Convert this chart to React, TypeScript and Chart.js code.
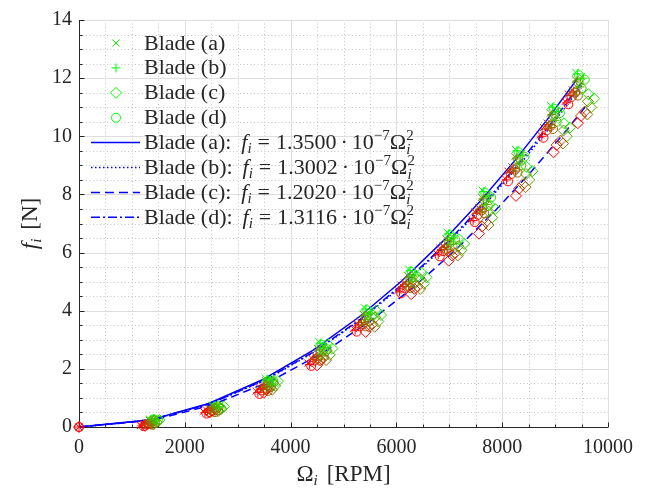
import React, { useEffect, useRef } from 'react';
import { Chart, registerables } from 'chart.js';

Chart.register(...registerables);

// ---------- data ----------
const xTickValues = [0, 2000, 4000, 6000, 8000, 10000];
const yTickValues = [0, 2, 4, 6, 8, 10, 12, 14];
const bladeLabels = ['Blade (a)', 'Blade (b)', 'Blade (c)', 'Blade (d)'];
const fitCoefficients = ['1.3500', '1.3002', '1.2020', '1.3116'];

// measured clusters (one inner array per throttle step, first sample green ... last sample red)
const bladeARpm = [[0], [1330, 1430, 1380, 1330, 1320, 1270, 1210, 1160], [2520, 2620, 2570, 2520, 2510, 2460, 2400, 2350], [3520, 3620, 3570, 3520, 3510, 3460, 3400, 3350], [4530, 4620, 4570, 4510, 4500, 4450, 4390, 4330], [5390, 5480, 5430, 5370, 5360, 5310, 5250, 5190], [6230, 6320, 6270, 6210, 6200, 6150, 6090, 6030], [6960, 7050, 7000, 6940, 6930, 6880, 6820, 6760], [7620, 7730, 7670, 7610, 7600, 7550, 7480, 7420], [8250, 8360, 8300, 8240, 8230, 8180, 8110, 8050], [8920, 9030, 8970, 8910, 8900, 8850, 8780, 8720], [9390, 9500, 9440, 9380, 9370, 9320, 9250, 9190]];
const bladeAForce = [[0], [0.27, 0.25, 0.17, 0.23, 0.10, 0.14, 0.11, 0.05], [0.76, 0.74, 0.66, 0.72, 0.59, 0.63, 0.60, 0.54], [1.68, 1.64, 1.48, 1.60, 1.34, 1.42, 1.36, 1.24], [2.93, 2.78, 2.56, 2.70, 2.38, 2.46, 2.38, 2.20], [4.11, 3.96, 3.74, 3.88, 3.56, 3.64, 3.56, 3.38], [5.43, 5.28, 5.06, 5.20, 4.88, 4.96, 4.88, 4.70], [6.70, 6.55, 6.33, 6.47, 6.15, 6.23, 6.15, 5.97], [8.15, 8.00, 7.70, 7.90, 7.45, 7.55, 7.40, 7.15], [9.55, 9.40, 9.10, 9.30, 8.85, 8.95, 8.80, 8.55], [11.05, 10.90, 10.60, 10.80, 10.35, 10.45, 10.30, 10.05], [12.20, 12.05, 11.75, 11.95, 11.50, 11.60, 11.45, 11.20]];

const bladeBRpm = [[0], [1360, 1460, 1410, 1360, 1350, 1300, 1240, 1190], [2550, 2650, 2600, 2550, 2540, 2490, 2430, 2380], [3550, 3650, 3600, 3550, 3540, 3490, 3430, 3380], [4560, 4650, 4600, 4540, 4530, 4480, 4420, 4360], [5420, 5510, 5460, 5400, 5390, 5340, 5280, 5220], [6260, 6350, 6300, 6240, 6230, 6180, 6120, 6060], [6990, 7080, 7030, 6970, 6960, 6910, 6850, 6790], [7650, 7760, 7700, 7640, 7630, 7580, 7510, 7450], [8280, 8390, 8330, 8270, 8260, 8210, 8140, 8080], [8950, 9060, 9000, 8940, 8930, 8880, 8810, 8750], [9420, 9530, 9470, 9410, 9400, 9350, 9280, 9220]];
const bladeBForce = [[0], [0.26, 0.24, 0.16, 0.22, 0.09, 0.13, 0.10, 0.04], [0.72, 0.70, 0.62, 0.68, 0.55, 0.59, 0.56, 0.50], [1.63, 1.59, 1.43, 1.55, 1.29, 1.37, 1.31, 1.19], [2.88, 2.73, 2.51, 2.65, 2.33, 2.41, 2.33, 2.15], [4.06, 3.91, 3.69, 3.83, 3.51, 3.59, 3.51, 3.33], [5.38, 5.23, 5.01, 5.15, 4.83, 4.91, 4.83, 4.65], [6.65, 6.50, 6.28, 6.42, 6.10, 6.18, 6.10, 5.92], [8.10, 7.95, 7.65, 7.85, 7.40, 7.50, 7.35, 7.10], [9.50, 9.35, 9.05, 9.25, 8.80, 8.90, 8.75, 8.50], [11.00, 10.85, 10.55, 10.75, 10.30, 10.40, 10.25, 10.00], [12.15, 12.00, 11.70, 11.90, 11.45, 11.55, 11.40, 11.15]];

const bladeCRpm = [[0], [1420, 1520, 1470, 1420, 1410, 1360, 1300, 1250], [2640, 2740, 2690, 2640, 2630, 2580, 2520, 2470], [3660, 3760, 3710, 3660, 3650, 3600, 3540, 3490], [4700, 4790, 4740, 4680, 4670, 4620, 4560, 4500], [5620, 5710, 5660, 5600, 5590, 5540, 5480, 5420], [6480, 6570, 6520, 6460, 6450, 6400, 6340, 6280], [7190, 7280, 7230, 7170, 7160, 7110, 7050, 6990], [7760, 7870, 7810, 7750, 7740, 7690, 7620, 7560], [8460, 8570, 8510, 8450, 8440, 8390, 8320, 8260], [9170, 9280, 9220, 9160, 9150, 9100, 9030, 8970], [9630, 9740, 9680, 9620, 9610, 9560, 9490, 9430]];
const bladeCForce = [[0], [0.26, 0.24, 0.16, 0.22, 0.09, 0.13, 0.10, 0.04], [0.72, 0.70, 0.62, 0.68, 0.55, 0.59, 0.56, 0.50], [1.62, 1.58, 1.42, 1.54, 1.28, 1.36, 1.30, 1.18], [2.85, 2.70, 2.48, 2.62, 2.30, 2.38, 2.30, 2.12], [4.00, 3.85, 3.63, 3.77, 3.45, 3.53, 3.45, 3.27], [5.30, 5.15, 4.93, 5.07, 4.75, 4.83, 4.75, 4.57], [6.45, 6.30, 6.08, 6.22, 5.90, 5.98, 5.90, 5.72], [7.65, 7.50, 7.20, 7.40, 6.95, 7.05, 6.90, 6.65], [8.95, 8.80, 8.50, 8.70, 8.25, 8.35, 8.20, 7.95], [10.45, 10.30, 10.00, 10.20, 9.75, 9.85, 9.70, 9.45], [11.45, 11.30, 11.00, 11.20, 10.75, 10.85, 10.70, 10.45]];

const bladeDRpm = [[0], [1390, 1490, 1440, 1390, 1380, 1330, 1270, 1220], [2580, 2680, 2630, 2580, 2570, 2520, 2460, 2410], [3580, 3680, 3630, 3580, 3570, 3520, 3460, 3410], [4590, 4680, 4630, 4570, 4560, 4510, 4450, 4390], [5450, 5540, 5490, 5430, 5420, 5370, 5310, 5250], [6290, 6380, 6330, 6270, 6260, 6210, 6150, 6090], [7020, 7110, 7060, 7000, 6990, 6940, 6880, 6820], [7680, 7790, 7730, 7670, 7660, 7610, 7540, 7480], [8310, 8420, 8360, 8300, 8290, 8240, 8170, 8110], [8980, 9090, 9030, 8970, 8960, 8910, 8840, 8780], [9450, 9560, 9500, 9440, 9430, 9380, 9310, 9250]];
const bladeDForce = [[0], [0.25, 0.23, 0.15, 0.21, 0.08, 0.12, 0.09, 0.03], [0.68, 0.66, 0.58, 0.64, 0.51, 0.55, 0.52, 0.46], [1.58, 1.54, 1.38, 1.50, 1.24, 1.32, 1.26, 1.14], [2.83, 2.68, 2.46, 2.60, 2.28, 2.36, 2.28, 2.10], [4.01, 3.86, 3.64, 3.78, 3.46, 3.54, 3.46, 3.28], [5.33, 5.18, 4.96, 5.10, 4.78, 4.86, 4.78, 4.60], [6.60, 6.45, 6.23, 6.37, 6.05, 6.13, 6.05, 5.87], [8.05, 7.90, 7.60, 7.80, 7.35, 7.45, 7.30, 7.05], [9.45, 9.30, 9.00, 9.20, 8.75, 8.85, 8.70, 8.45], [10.95, 10.80, 10.50, 10.70, 10.25, 10.35, 10.20, 9.95], [12.10, 11.95, 11.65, 11.85, 11.40, 11.50, 11.35, 11.10]];

// fitted curves f = k * Omega^2 sampled at the step speeds
const fitARpm = [0, 1350, 2450, 3480, 4420, 5300, 6100, 6900, 7600, 8250, 8850, 9430];
const fitAForce = [0, 0.246, 0.810, 1.635, 2.637, 3.792, 5.023, 6.427, 7.798, 9.188, 10.574, 12.005];
const fitBRpm = [0, 1360, 2470, 3510, 4460, 5350, 6160, 6960, 7680, 8330, 8930, 9530];
const fitBForce = [0, 0.241, 0.793, 1.602, 2.586, 3.722, 4.934, 6.298, 7.669, 9.022, 10.368, 11.809];
const fitCRpm = [0, 1400, 2530, 3600, 4600, 5500, 6330, 7140, 7880, 8560, 9180, 9620];
const fitCForce = [0, 0.236, 0.769, 1.558, 2.543, 3.636, 4.816, 6.128, 7.464, 8.808, 10.130, 11.124];
const fitDRpm = [0, 1340, 2460, 3490, 4450, 5320, 6120, 6920, 7620, 8260, 8880, 9500];
const fitDForce = [0, 0.236, 0.794, 1.598, 2.597, 3.712, 4.913, 6.281, 7.616, 8.949, 10.343, 11.837];

// ---------- styles ----------
const FONT = '"Liberation Serif", "Times New Roman", serif';
const TEXT = '#262626';
const BLUE = '#0000ff';
const GREEN = '#00ff00';

function buildScatter(rpm: number[][], force: number[][]) {
  const pts: { x: number; y: number }[] = [];
  const cols: string[] = [];
  rpm.forEach((cl, i) => {
    const n = cl.length;
    cl.forEach((r, j) => {
      pts.push({ x: r, y: force[i][j] });
      const t = n === 1 ? 1 : j / (n - 1);
      cols.push(`rgb(${Math.round(255 * t)},${Math.round(255 * (1 - t))},0)`);
    });
  });
  return { pts, cols };
}

function zip(xs: number[], ys: number[]) {
  return xs.map((x, i) => ({ x, y: ys[i] }));
}

type Piece = { t?: string; it?: boolean; s?: number; dy?: number; adv?: boolean; gap?: number };

function richWidth(ctx: CanvasRenderingContext2D, pieces: Piece[], base: number) {
  let w = 0;
  for (const p of pieces) {
    if (p.gap) { w += p.gap; continue; }
    ctx.font = `${p.it ? 'italic ' : ''}${p.s || base}px ${FONT}`;
    if (p.adv !== false) w += ctx.measureText(p.t || '').width;
  }
  return w;
}

function drawRich(ctx: CanvasRenderingContext2D, pieces: Piece[], x: number, y: number, base: number) {
  let cx = x;
  for (const p of pieces) {
    if (p.gap) { cx += p.gap; continue; }
    ctx.font = `${p.it ? 'italic ' : ''}${p.s || base}px ${FONT}`;
    ctx.fillText(p.t || '', cx, y + (p.dy || 0));
    if (p.adv !== false) cx += ctx.measureText(p.t || '').width;
  }
}

function drawMarker(ctx: CanvasRenderingContext2D, kind: string, x: number, y: number) {
  ctx.save();
  ctx.strokeStyle = GREEN;
  ctx.lineWidth = 1;
  ctx.beginPath();
  if (kind === 'x') {
    const d = 3.5;
    ctx.moveTo(x - d, y - d); ctx.lineTo(x + d, y + d);
    ctx.moveTo(x - d, y + d); ctx.lineTo(x + d, y - d);
  } else if (kind === '+') {
    const d = 4.5;
    ctx.moveTo(x - d, y); ctx.lineTo(x + d, y);
    ctx.moveTo(x, y - d); ctx.lineTo(x, y + d);
  } else if (kind === 'd') {
    const d = 5.5;
    ctx.moveTo(x, y - d); ctx.lineTo(x + d, y); ctx.lineTo(x, y + d); ctx.lineTo(x - d, y); ctx.closePath();
  } else {
    ctx.arc(x, y, 4.5, 0, Math.PI * 2);
  }
  ctx.stroke();
  ctx.restore();
}

const decorPlugin = {
  id: 'matlabDecor',
  beforeDatasetsDraw(chart: any) {
    const { ctx, chartArea: a, scales } = chart;
    const xs = scales.x, ys = scales.y;
    ctx.save();
    // minor dotted grid
    ctx.strokeStyle = '#c4c4c4';
    ctx.lineWidth = 1;
    ctx.setLineDash([1, 2.5]);
    for (let v = 500; v < 10000; v += 500) {
      if (v % 2000 === 0) continue;
      const px = Math.round(xs.getPixelForValue(v)) + 0.5;
      ctx.beginPath(); ctx.moveTo(px, a.top); ctx.lineTo(px, a.bottom); ctx.stroke();
    }
    for (let v = 0.5; v < 14; v += 0.5) {
      if (v % 2 === 0) continue;
      const py = Math.round(ys.getPixelForValue(v)) + 0.5;
      ctx.beginPath(); ctx.moveTo(a.left, py); ctx.lineTo(a.right, py); ctx.stroke();
    }
    // major solid grid
    ctx.setLineDash([]);
    ctx.strokeStyle = '#dedede';
    xTickValues.forEach((v) => {
      if (v === 0) return;
      const px = Math.round(xs.getPixelForValue(v)) + 0.5;
      ctx.beginPath(); ctx.moveTo(px, a.top); ctx.lineTo(px, a.bottom); ctx.stroke();
    });
    yTickValues.forEach((v) => {
      if (v === 0) return;
      const py = Math.round(ys.getPixelForValue(v)) + 0.5;
      ctx.beginPath(); ctx.moveTo(a.left, py); ctx.lineTo(a.right, py); ctx.stroke();
    });
    // axes
    ctx.strokeStyle = TEXT;
    const bx = Math.round(a.left) + 0.5;
    const by = Math.round(a.bottom) + 0.5;
    ctx.beginPath(); ctx.moveTo(bx, a.top); ctx.lineTo(bx, by); ctx.lineTo(a.right, by); ctx.stroke();
    // inward ticks
    for (let v = 0; v <= 10000; v += 500) {
      const px = Math.round(xs.getPixelForValue(v)) + 0.5;
      const len = v % 2000 === 0 ? 5 : 3;
      ctx.beginPath(); ctx.moveTo(px, by); ctx.lineTo(px, by - len); ctx.stroke();
    }
    for (let v = 0; v <= 14; v += 0.5) {
      const py = Math.round(ys.getPixelForValue(v)) + 0.5;
      const len = v % 2 === 0 ? 5 : 3;
      ctx.beginPath(); ctx.moveTo(bx, py); ctx.lineTo(bx + len, py); ctx.stroke();
    }
    ctx.restore();
  },
  afterDraw(chart: any) {
    const { ctx, chartArea: a } = chart;
    ctx.save();
    ctx.fillStyle = TEXT;
    ctx.textBaseline = 'alphabetic';
    ctx.textAlign = 'left';
    // x title
    const xt: Piece[] = [{ t: 'Ω' }, { t: 'i', it: true, s: 15, dy: 4 }, { gap: 9 }, { t: '[RPM]' }];
    const xw = richWidth(ctx, xt, 23);
    drawRich(ctx, xt, (a.left + a.right) / 2 - xw / 2, 481, 23);
    // y title
    const yt: Piece[] = [{ t: 'f', it: true }, { t: 'i', it: true, s: 15, dy: 4 }, { gap: 9 }, { t: '[N]' }];
    const yw = richWidth(ctx, yt, 23);
    ctx.save();
    ctx.translate(37, (a.top + a.bottom) / 2);
    ctx.rotate(-Math.PI / 2);
    drawRich(ctx, yt, -yw / 2, 0, 23);
    ctx.restore();

    // legend
    const rowY = (i: number) => 43 + i * 24.9;
    const kinds = ['x', '+', 'd', 'o'];
    const dashes = [[], [1.5, 2.5], [9, 5], [9, 3, 2, 3]];
    for (let i = 0; i < 4; i++) {
      drawMarker(ctx, kinds[i], 116, rowY(i));
      drawRich(ctx, [{ t: bladeLabels[i] }], 144, rowY(i) + 6.5, 22);
    }
    for (let i = 0; i < 4; i++) {
      const y = rowY(4 + i);
      ctx.save();
      ctx.strokeStyle = BLUE;
      ctx.lineWidth = 1.5;
      ctx.setLineDash(dashes[i]);
      ctx.beginPath(); ctx.moveTo(91, y); ctx.lineTo(140, y); ctx.stroke();
      ctx.restore();
      const pieces: Piece[] = [
        { t: bladeLabels[i] + ':' }, { gap: 10 },
        { t: 'f', it: true }, { t: 'i', it: true, s: 15, dy: 4 }, { gap: 6 },
        { t: '=' }, { gap: 6 }, { t: fitCoefficients[i] }, { gap: 4 }, { t: '·' }, { gap: 4 },
        { t: '10' }, { t: '−7', s: 15, dy: -9 }, { t: 'Ω' },
        { t: '2', s: 15, dy: -9, adv: false }, { t: 'i', it: true, s: 15, dy: 5 },
      ];
      drawRich(ctx, pieces, 144, y + 6.5, 22);
    }
    ctx.restore();
  },
};

export default function App() {
  const ref = useRef<HTMLCanvasElement>(null);
  useEffect(() => {
    document.body.style.margin = '0';
    const A = buildScatter(bladeARpm, bladeAForce);
    const B = buildScatter(bladeBRpm, bladeBForce);
    const C = buildScatter(bladeCRpm, bladeCForce);
    const D = buildScatter(bladeDRpm, bladeDForce);
    const scatterDs = (label: string, s: any, style: string, r: number) => ({
      label, data: s.pts, pointStyle: style, pointRadius: r, pointBorderWidth: 1,
      pointBorderColor: s.cols, pointBackgroundColor: 'rgba(0,0,0,0)', showLine: false, clip: false,
    });
    const lineDs = (label: string, xs: number[], ys: number[], dash: number[]) => ({
      label, data: zip(xs, ys), showLine: true, pointRadius: 0, borderColor: BLUE, borderWidth: 1.5,
      borderDash: dash, fill: false, tension: 0, clip: false,
    });
    const chart = new Chart(ref.current!, {
      type: 'scatter',
      data: {
        datasets: [
          scatterDs(bladeLabels[0], A, 'crossRot', 5),
          scatterDs(bladeLabels[1], B, 'cross', 4.5),
          scatterDs(bladeLabels[2], C, 'rectRot', 5.5),
          scatterDs(bladeLabels[3], D, 'circle', 4.5),
          lineDs('fit a', fitARpm, fitAForce, []),
          lineDs('fit b', fitBRpm, fitBForce, [1.5, 2.5]),
          lineDs('fit c', fitCRpm, fitCForce, [8, 5]),
          lineDs('fit d', fitDRpm, fitDForce, [8, 3, 2, 3]),
        ] as any,
      },
      options: {
        responsive: false,
        animation: false,
        layout: { padding: { top: 20, right: 39, left: 0, bottom: 0 } },
        plugins: { legend: { display: false }, tooltip: { enabled: false } },
        scales: {
          x: {
            type: 'linear', min: 0, max: 10000,
            afterFit: (s: any) => { s.height = 66; },
            afterBuildTicks: (s: any) => { s.ticks = xTickValues.map((v) => ({ value: v })); },
            grid: { display: false, drawTicks: false },
            border: { display: false },
            ticks: { font: { family: FONT, size: 20 }, color: TEXT, padding: 9, maxRotation: 0, callback: (v: any) => String(v) },
          },
          y: {
            type: 'linear', min: 0, max: 14,
            afterFit: (s: any) => { s.width = 79; },
            afterBuildTicks: (s: any) => { s.ticks = yTickValues.map((v) => ({ value: v })); },
            grid: { display: false, drawTicks: false },
            border: { display: false },
            ticks: { font: { family: FONT, size: 20 }, color: TEXT, padding: 7, callback: (v: any) => String(v) },
          },
        },
      } as any,
      plugins: [decorPlugin],
    });
    return () => chart.destroy();
  }, []);
  return (
    <div style={{ width: 647, height: 493, background: '#fff' }}>
      <canvas ref={ref} width={647} height={493} style={{ display: 'block' }} />
    </div>
  );
}
